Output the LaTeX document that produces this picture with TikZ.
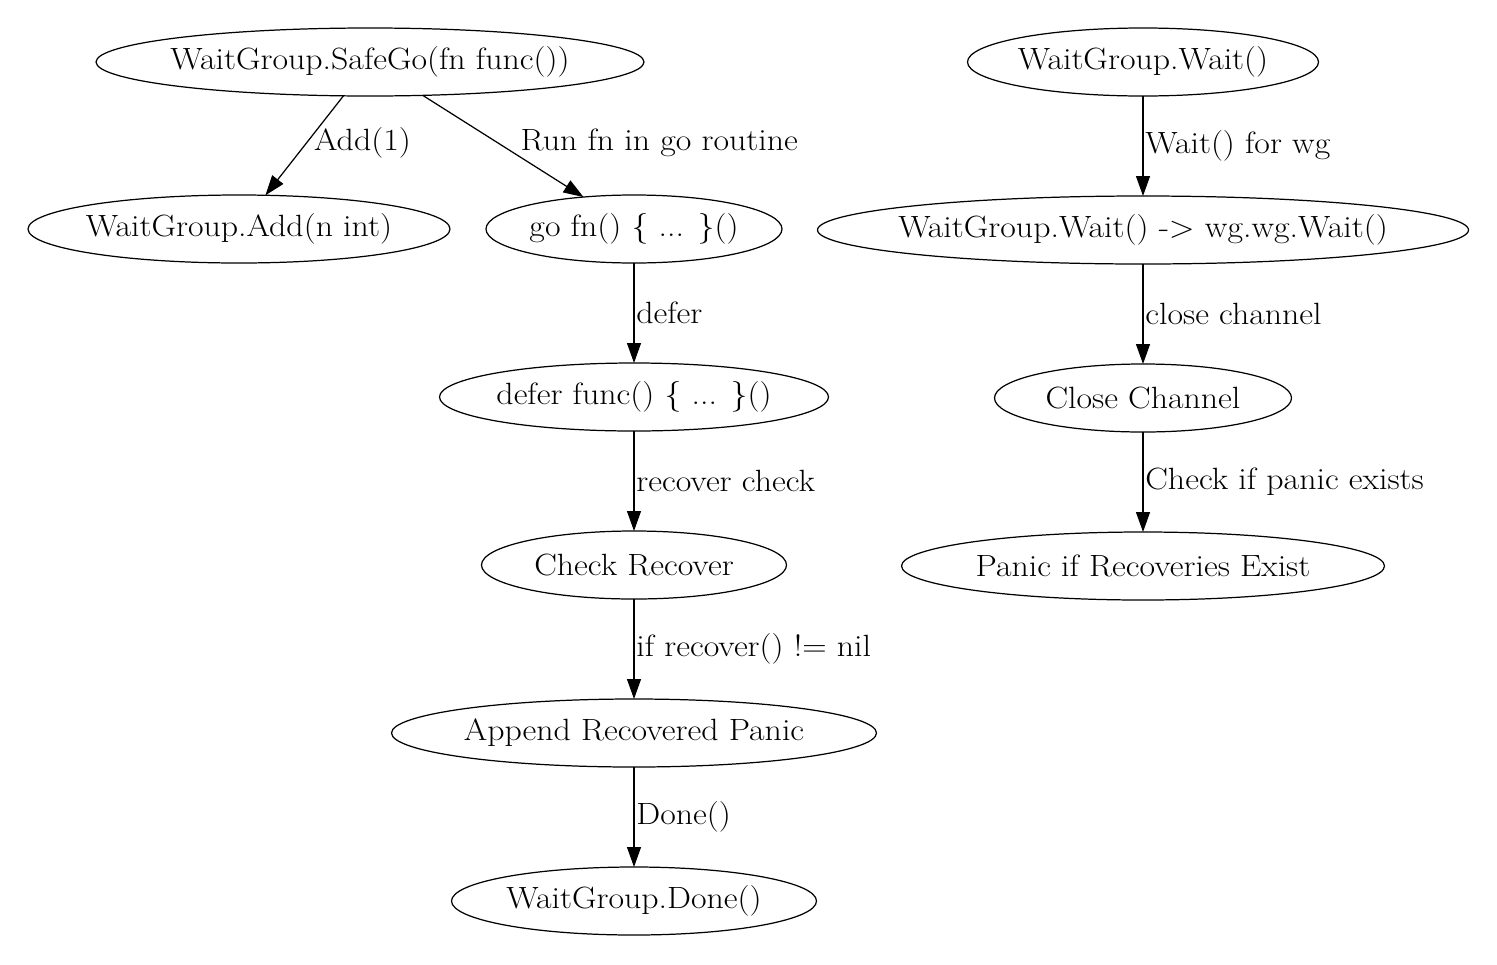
\documentclass[tikz,border=0pt]{standalone}
\usepackage{fontspec}
\setmainfont{Latin Modern Roman}[FakeStretch=1.1]
\usepackage{tikz}
\usetikzlibrary{arrows.meta}
\usetikzlibrary{positioning}
\usetikzlibrary{shapes.geometric}

\begin{document}
\begin{tikzpicture}[
                node distance=2cm,
                every node/.style={font=\fontsize{17.5}{21}\selectfont},
                state/.style={ellipse, draw=black, line width=0.7pt,
                    minimum height=1.36cm, inner xsep=-2cm, inner ysep=0pt, outer sep=0pt},
                arrow/.style={-{Triangle[length=0.4cm, width=0.28cm]}, line width=0.7pt},
                lbl/.style={inner xsep=1pt, anchor=west},
            ]
            \useasboundingbox (0,0) rectangle (29.94,-19.28);

            % SafeGo side
            \node[state, minimum width=10.96cm] (safego) at (7.40,-1.24) {WaitGroup.SafeGo(fn func())};
            \node[state, minimum width=8.44cm] (add) at (4.78,-4.58) {WaitGroup.Add(n int)};
            \node[state, minimum width=5.92cm] (gofn) at (12.68,-4.58) {go fn() \{ ... \}()};
            \node[state, minimum width=7.78cm, below=of gofn] (deferfn) {defer func() \{ ... \}()};
            \node[state, minimum width=6.10cm, below=of deferfn] (checkrec) {Check Recover};
            \node[state, minimum width=9.70cm, below=of checkrec] (appendp) {Append Recovered Panic};
            \node[state, minimum width=7.30cm, below=of appendp] (wgdone) {WaitGroup.Done()};

            % Wait side
            \node[state, minimum width=7.02cm] (wait) at (22.86,-1.24) {WaitGroup.Wait()};
            \node[state, minimum width=13.02cm, below=of wait] (waitwg) {WaitGroup.Wait() -> wg.wg.Wait()};
            \node[state, minimum width=5.94cm, below=of waitwg] (closech) {Close Channel};
            \node[state, minimum width=9.66cm, below=of closech] (panicex) {Panic if Recoveries Exist};

            % Arrows
            \draw[arrow] (safego) -- node[lbl, pos=0.47, xshift=0.1cm] {Add(1)} (add);
            \draw[arrow] (safego) -- node[lbl, pos=0.47, xshift=0.4cm] {Run fn in go routine} (gofn);
            \draw[arrow] (gofn) -- node[lbl] {defer} (deferfn);
            \draw[arrow] (deferfn) -- node[lbl] {recover check} (checkrec);
            \draw[arrow] (checkrec) -- node[lbl] {if recover() != nil} (appendp);
            \draw[arrow] (appendp) -- node[lbl] {Done()} (wgdone);

            \draw[arrow] (wait) -- node[lbl] {Wait() for wg} (waitwg);
            \draw[arrow] (waitwg) -- node[lbl] {close channel} (closech);
            \draw[arrow] (closech) -- node[lbl] {Check if panic exists} (panicex);

            \end{tikzpicture}
\end{document}
